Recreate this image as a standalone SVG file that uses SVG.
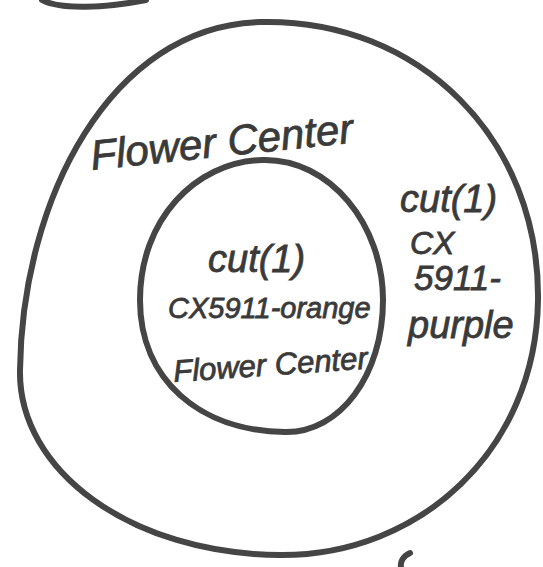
<svg xmlns="http://www.w3.org/2000/svg" width="543" height="567" viewBox="0 0 543 567">
<style>
.ring{fill:none;stroke:#454545;stroke-width:6;stroke-linecap:round}
.t{font-family:"Liberation Sans",Arial,sans-serif;font-style:italic;fill:#3a3a3a;stroke:#3a3a3a;stroke-width:0.8}
</style>
<rect width="543" height="567" fill="#ffffff"/>
<g id="top-fragment"><path class="ring" d="M 42,0 C 60,10 105,8 146,0" stroke-width="7"/></g>
<g id="outer-node">
<path class="ring" d="M 260,22 C 420,18 540,140 538,300 C 536,450 420,556 280,555 C 130,554 18,470 20,370 C 22,200 110,26 260,22 Z"/>
<text class="t" x="92" y="170" font-size="42" transform="rotate(-6 92 170)">Flower Center</text>
<text class="t" x="400" y="212" font-size="38">cut(1)</text>
<text class="t" x="410" y="254" font-size="32">CX</text>
<text class="t" x="414" y="290" font-size="35">5911-</text>
<text class="t" x="408" y="338" font-size="38">purple</text>
</g>
<g id="inner-node">
<path class="ring" d="M 262,160 C 330,158 383,225 383,300 C 383,375 340,433 285,432 C 200,431 140,380 140,300 C 140,220 195,162 262,160 Z"/>
<text class="t" x="208" y="272" font-size="38">cut(1)</text>
<text class="t" x="168" y="318" font-size="29">CX5911-orange</text>
<text class="t" x="174" y="382" font-size="31" transform="rotate(-4 174 382)">Flower Center</text>
</g>
<g id="connectors"><path class="ring" d="M 410,553 C 403,556 400,562 401,567" stroke-width="4"/></g>
</svg>
